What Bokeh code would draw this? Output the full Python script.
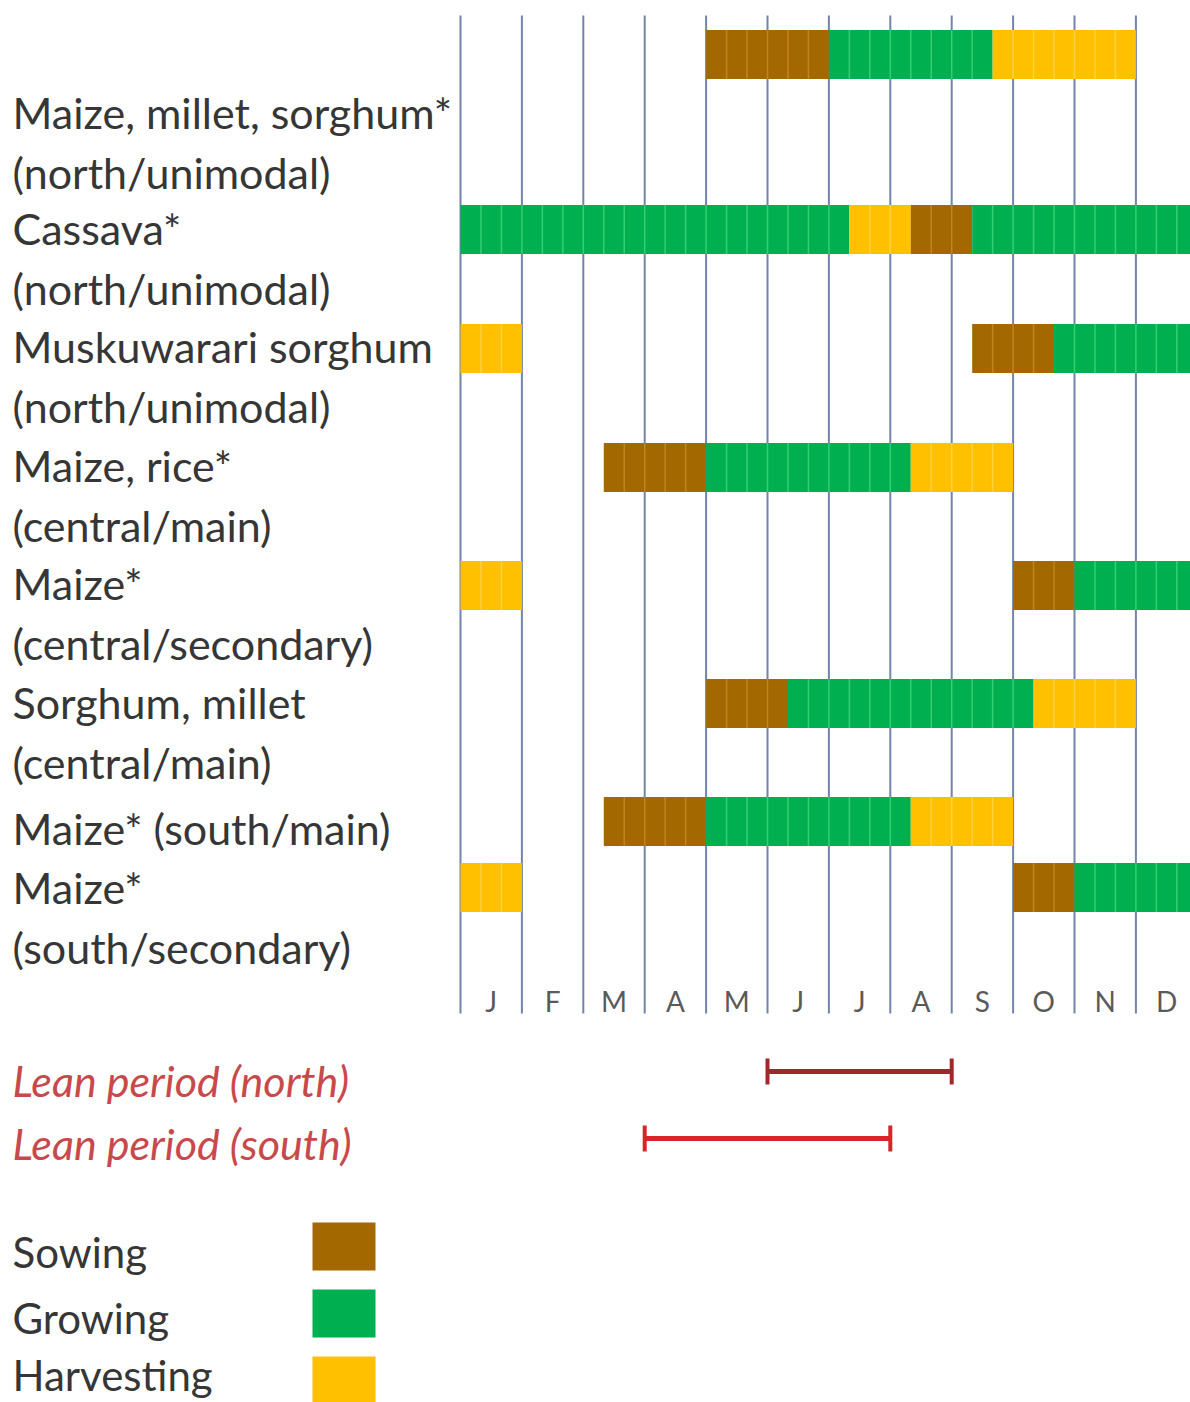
from bokeh.plotting import figure
from bokeh.models import Range1d, ColumnDataSource
from bokeh.embed import file_html
from bokeh.resources import INLINE
from bokeh.core.properties import value

# ---------------- data ----------------
months = ["J", "F", "M", "A", "M", "J", "J", "A", "S", "O", "N", "D"]

label_lines = [
    "Maize, millet, sorghum*", "(north/unimodal)",
    "Cassava*", "(north/unimodal)",
    "Muskuwarari sorghum", "(north/unimodal)",
    "Maize, rice*", "(central/main)",
    "Maize*", "(central/secondary)",
    "Sorghum, millet", "(central/main)",
    "Maize* (south/main)",
    "Maize*", "(south/secondary)",
]

# crop calendar segments (row index, stage, start month, end month); months as fractions (dekads)
seg_row = [0, 0, 0,
           1, 1, 1, 1,
           2, 2, 2,
           3, 3, 3,
           4, 4, 4,
           5, 5, 5,
           6, 6, 6,
           7, 7, 7]
seg_stage = ["Sowing", "Growing", "Harvesting",
             "Growing", "Harvesting", "Sowing", "Growing",
             "Harvesting", "Sowing", "Growing",
             "Sowing", "Growing", "Harvesting",
             "Harvesting", "Sowing", "Growing",
             "Sowing", "Growing", "Harvesting",
             "Sowing", "Growing", "Harvesting",
             "Harvesting", "Sowing", "Growing"]
seg_start = [4.0, 6.0, 26/3,
             0.0, 19/3, 22/3, 25/3,
             0.0, 25/3, 29/3,
             7/3, 4.0, 22/3,
             0.0, 9.0, 10.0,
             4.0, 16/3, 28/3,
             7/3, 4.0, 22/3,
             0.0, 9.0, 10.0]
seg_end = [6.0, 26/3, 11.0,
           19/3, 22/3, 25/3, 12.0,
           1.0, 29/3, 12.0,
           4.0, 22/3, 9.0,
           1.0, 10.0, 12.0,
           16/3, 28/3, 11.0,
           4.0, 22/3, 9.0,
           1.0, 10.0, 12.0]

lean_labels = ["Lean period (north)", "Lean period (south)"]
lean_start = [5.0, 3.0]
lean_end = [8.0, 7.0]

legend_labels = ["Sowing", "Growing", "Harvesting"]

# ---------------- style / layout ----------------
stage_fill = {"Sowing": "#A36900", "Growing": "#00B050", "Harvesting": "#FFC000"}
stage_stripe = {"Sowing": "#C2841C", "Growing": "#33CF72", "Harvesting": "#FFD040"}

X0 = 460.0   # page x of January start
MW = 61.4    # page px per month
W, H = 1190, 1402


def dx(px):
    return (px - X0) / MW


row_y = [54, 229, 348, 467, 585, 703, 821, 887]
bar_h = 49
label_y = [112, 172, 228, 288, 346, 406, 465, 525, 583, 643, 702, 762, 828, 887, 947]
lean_y = [1071, 1138]
lean_text_y = [1080, 1143]
lean_colors = ["#A3262C", "#DC2229"]
legend_y = [1246, 1313, 1380]
legend_text_y = [1251, 1317, 1374]

p = figure(width=W, height=H, output_backend="svg", toolbar_location=None,
           x_range=Range1d(dx(0), dx(W)), y_range=Range1d(H, 0),
           min_border=0, background_fill_color="white", border_fill_color="white")
p.axis.visible = False
p.grid.visible = False
p.outline_line_color = None

FONT = "Lato"

# month boundary lines
bounds = list(range(len(months) + 1))
p.segment(x0=bounds, x1=bounds, y0=[15] * len(bounds), y1=[1013] * len(bounds),
          line_color="#7384AC", line_width=2)

# month labels
p.text(x=[i + 0.5 for i in range(len(months))], y=[1000] * len(months), text=months,
       text_font=value(FONT), text_font_size="28px", text_color="#5A5A5A",
       text_align="center", text_baseline="middle")

# bars
src = ColumnDataSource(dict(
    left=seg_start, right=seg_end,
    top=[row_y[r] - bar_h / 2 for r in seg_row],
    bottom=[row_y[r] + bar_h / 2 for r in seg_row],
    color=[stage_fill[s] for s in seg_stage],
))
p.quad(left="left", right="right", top="top", bottom="bottom", source=src,
       fill_color="color", line_color=None)

# dekad stripes inside bars
sx, sy0, sy1, sc = [], [], [], []
for r, s, a, b in zip(seg_row, seg_stage, seg_start, seg_end):
    k0 = int(round(a * 3)) + 1
    k1 = int(round(b * 3))
    for k in range(k0, k1):
        sx.append(k / 3)
        sy0.append(row_y[r] - bar_h / 2)
        sy1.append(row_y[r] + bar_h / 2)
        sc.append(stage_stripe[s])
p.segment(x0=sx, x1=sx, y0=sy0, y1=sy1, line_color=sc, line_width=1.5)

# row labels
p.text(x=[dx(12)] * len(label_lines), y=label_y, text=label_lines,
       text_font=value(FONT), text_font_size="43px", text_color="#363636",
       text_align="left", text_baseline="middle")

# lean periods
p.segment(x0=lean_start, x1=lean_end, y0=lean_y, y1=lean_y, line_color=lean_colors, line_width=5)
for xs in (lean_start, lean_end):
    p.segment(x0=xs, x1=xs, y0=[y - 13 for y in lean_y], y1=[y + 13 for y in lean_y],
              line_color=lean_colors, line_width=4)
p.text(x=[dx(12)] * 2, y=lean_text_y, text=lean_labels,
       text_font=value(FONT), text_font_size="43px", text_font_style="italic",
       text_color="#C8494B", text_align="left", text_baseline="middle")

# legend
p.quad(left=[dx(312)] * 3, right=[dx(375)] * 3,
       top=[y - 24 for y in legend_y], bottom=[y + 24 for y in legend_y],
       fill_color=[stage_fill[s] for s in legend_labels], line_color=None)
p.text(x=[dx(12)] * 3, y=legend_text_y, text=legend_labels,
       text_font=value(FONT), text_font_size="42px", text_color="#363636",
       text_align="left", text_baseline="middle")

open("out.html", "w").write(file_html(p, INLINE))
